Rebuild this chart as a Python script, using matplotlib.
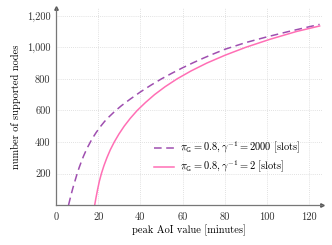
import matplotlib
matplotlib.use('Agg')
import matplotlib.pyplot as plt

# values
dashed_x = [5.9, 7, 8, 9, 10, 11, 12, 13, 14, 15, 17, 19, 21, 23, 25, 28, 31, 35, 40, 45, 50,
            55, 60, 65, 70, 75, 80, 90, 100, 110, 120, 125]
dashed_y = [0, 60, 110, 155, 200, 240, 276, 310, 340, 368, 418, 460, 497, 530, 558, 596, 630, 670,
            717, 760, 800, 836, 870, 902, 932, 960, 987, 1030, 1066, 1099, 1130, 1145]
solid_x = [18.3, 18.9, 19.7, 20.5, 21.5, 22.7, 24.1, 25.7, 27.6, 29.8, 32.3, 35.2, 38.5, 42.4,
           46.7, 51.7, 57.4, 64, 71.5, 80.2, 90, 101.3, 114, 125]
solid_y = [0, 45, 100, 150, 200, 250, 300, 350, 400, 450, 500, 550, 600, 650,
           700, 750, 800, 850, 900, 950, 1000, 1050, 1100, 1135]
x_ticks = [0, 20, 40, 60, 80, 100, 120]
y_ticks = [200, 400, 600, 800, 1000, 1200]
y_tick_labels = ['200', '400', '600', '800', '1,000', '1,200']
labels = [r'$\pi_{\mathsf{G}} = 0.8, \gamma^{-1} = 2000$ [slots]',
          r'$\pi_{\mathsf{G}} = 0.8, \gamma^{-1} = 2$ [slots]']

plt.rcParams.update({
    'font.family': 'serif',
    'font.serif': ['cmr10', 'DejaVu Serif'],
    'mathtext.fontset': 'cm',
    'axes.unicode_minus': False,
    'font.size': 7.5,
})

fig = plt.figure(figsize=(3.32, 2.45), dpi=100)
ax = fig.add_axes([0.169, 0.163, 0.80, 0.805])

ax.plot(dashed_x, dashed_y, color='#9f4fb0', lw=1.1, ls=(0, (5, 3)), label=labels[0])
ax.plot(solid_x, solid_y, color='#ff6fb5', lw=1.1, label=labels[1])

ax.set_xlim(0, 126)
ax.set_ylim(0, 1250)
ax.set_xticks(x_ticks)
ax.set_yticks(y_ticks)
ax.set_yticklabels(y_tick_labels)
ax.grid(True, color='#d8d8d8', ls=(0, (1, 1.5)), lw=0.6)
ax.tick_params(length=0, pad=4, colors='#333333')
ax.tick_params(axis='x', pad=5)

for s in ['top', 'right']:
    ax.spines[s].set_visible(False)
for s in ['left', 'bottom']:
    ax.spines[s].set_color('#777777')
    ax.spines[s].set_linewidth(0.9)
ax.plot(1, 0, '>', color='#555555', ms=2.5, transform=ax.transAxes, clip_on=False)
ax.plot(0, 1, '^', color='#555555', ms=2.5, transform=ax.transAxes, clip_on=False)

ax.set_xlabel('peak AoI value [minutes]', labelpad=2)
ax.set_ylabel('number of supported nodes', labelpad=4)

ax.legend(loc='lower right', bbox_to_anchor=(0.955, 0.105), frameon=False,
          handlelength=2.0, handletextpad=0.55, labelspacing=0.25, fontsize=7.5)

fig.savefig('out.png', dpi=100, facecolor='white')
